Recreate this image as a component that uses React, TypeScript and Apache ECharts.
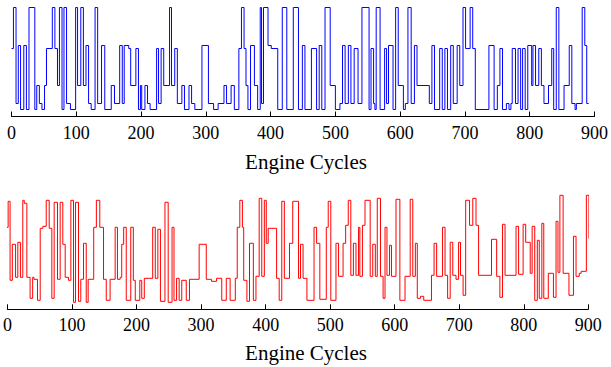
import React, { useEffect, useRef } from "react";
import * as echarts from "echarts";

const xTicks = [0, 100, 200, 300, 400, 500, 600, 700, 800, 900];
const axisTitle = "Engine Cycles";

// top (blue) signal: change points in engine cycles and level held from there
const topCycles = [
  0, 3, 7, 10.5, 14, 19, 23, 27, 36, 39, 43, 47, 51, 54, 63, 67, 71, 74, 78, 81, 85, 91, 99, 102, 107, 111, 115, 119, 123, 129, 133, 139, 144, 154, 159, 167, 171, 174,
  181, 184, 192, 196, 199, 201, 206, 210, 214, 224, 227, 231, 235, 244, 247, 252, 256, 263, 267, 274, 278, 283, 294, 304, 312, 319, 328, 332, 339, 344, 351, 355, 359,
  362, 365, 369, 375, 380, 384, 386, 389, 396, 401, 411, 418, 425, 435, 443, 449, 453, 463, 471, 475, 479, 484, 492, 500, 507, 511, 515, 520, 524, 529, 535, 541,
  552, 555, 559, 561, 563, 569, 576, 579, 582, 589, 593, 597, 605, 608, 612, 617, 622, 626, 645, 649, 653, 661, 665, 669, 673, 678, 682, 688, 692, 697, 701, 708, 712, 716,
  737, 745, 750, 754, 758, 764, 768, 771, 773, 778, 782, 786, 789, 793, 797, 803, 805, 809, 814, 818, 822, 829, 834, 837, 841, 845, 853, 861, 865, 870, 872, 881, 885, 888, 891,
];
const topValues = [
  68, 109, 13, 71, 7, 71, 7, 109, 7, 31, 13, 7, 31, 68, 109, 68, 31, 109, 7, 109, 13, 7, 109, 31, 109, 31, 71, 13, 7, 109, 13, 71, 7, 31, 13, 71, 13, 71,
  68, 31, 68, 7, 31, 7, 31, 13, 7, 68, 13, 68, 31, 109, 31, 68, 13, 31, 7, 31, 13, 7, 71, 13, 7, 13, 31, 13, 31, 7, 68, 109, 68,
  31, 7, 71, 31, 7, 109, 13, 109, 71, 68, 7, 109, 7, 109, 7, 71, 7, 68, 7, 71, 7, 109, 31, 7, 13, 71, 13, 71, 13, 68, 13, 109,
  7, 68, 13, 7, 109, 7, 68, 13, 71, 7, 109, 31, 7, 13, 109, 13, 71, 31, 13, 71, 7, 68, 7, 68, 7, 71, 13, 71, 31, 109, 68, 109, 68, 7,
  71, 7, 31, 68, 7, 13, 7, 13, 68, 13, 68, 7, 68, 7, 71, 31, 71, 31, 68, 31, 13, 31, 68, 7, 109, 7, 31, 71, 13, 7, 13, 109, 71, 13, 13,
];

// bottom (red) signal
const bottomCycles = [
  -2, 1, 4, 7.5, 12.5, 16, 20, 23.7, 26, 30, 35, 39, 41, 46.5, 50.7, 54.8, 60, 64.6, 68.7, 72.3, 77.5, 81.6, 85.7, 89.4, 94.5, 98.2, 102.3, 105.4, 110, 113.6, 117.8, 122, 125, 133.6, 137.7, 143, 148.8, 153, 159, 166.8, 170.4,
  174.6, 177, 180, 184, 191, 195, 198, 205, 208, 212, 225, 229, 233, 237, 244, 249, 255, 258, 262, 266, 270, 277, 282, 297, 308, 316, 324, 332, 339, 345, 353, 356, 360,
  364, 366, 371, 375, 381, 385, 390, 394, 398, 401, 404, 417, 421, 425, 429, 437, 442, 451, 454, 458, 464, 475, 479, 484, 494, 497, 501, 509, 513, 520, 524, 528, 532, 536, 540, 544,
  546, 550, 554, 562, 566, 570, 573, 578, 582, 585, 588, 592, 595, 602, 608, 616, 624, 628, 632, 635, 640, 645, 657, 661, 665, 674, 678, 682, 686, 690, 695, 699, 702, 706, 710, 716, 721, 726, 730,
  750, 758, 763, 767, 771, 788, 792, 799, 803, 810, 813, 817, 821, 824, 828, 831, 838, 846, 850, 853, 856, 861, 870, 877, 881, 886, 889, 897, 901, 905, 906,
];
const bottomValues = [
  82, 108, 29, 65, 32, 67, 32, 109, 106, 32, 11, 32, 30, 9, 81, 83, 109, 81, 11, 107, 30, 107, 65, 32, 29, 109, 7, 107, 8, 30, 66, 7, 30, 82, 109, 82, 30, 9, 30, 82, 30,
  32, 65, 82, 9, 82, 29, 9, 29, 11, 31, 82, 31, 80, 8, 107, 7, 82, 9, 31, 9, 29, 9, 30, 65, 30, 28, 31, 9, 31, 9, 31, 82, 109,
  82, 29, 8, 66, 9, 33, 111, 33, 109, 66, 81, 31, 9, 108, 31, 66, 108, 31, 65, 31, 9, 82, 66, 10, 82, 108, 9, 66, 33, 66, 84, 109, 34, 66, 34, 82,
  33, 84, 109, 33, 65, 33, 111, 33, 11, 82, 34, 64, 33, 110, 9, 33, 110, 33, 66, 11, 13, 9, 34, 66, 33, 82, 34, 11, 67, 34, 30, 67, 34, 14, 109, 84, 111, 84, 34,
  70, 33, 12, 85, 34, 83, 35, 85, 67, 36, 83, 9, 69, 11, 86, 11, 36, 12, 88, 37, 114, 36, 14, 73, 33, 36, 38, 114, 71, 39, 39,
];

const serif = "'Liberation Serif', 'Times New Roman', serif";

function makeXAxis(gridIndex: number) {
  return {
    gridIndex,
    type: "value" as const,
    min: xTicks[0],
    max: xTicks[xTicks.length - 1],
    interval: 100,
    axisLine: { show: true, onZero: false, lineStyle: { color: "#000", width: 1 } },
    axisTick: { show: true, inside: true, length: 5, lineStyle: { color: "#000", width: 1 } },
    axisLabel: { show: true, margin: 7, fontFamily: serif, fontSize: 18, color: "#000", showMinLabel: true, showMaxLabel: true },
    splitLine: { show: false },
  };
}

export default function App() {
  const ref = useRef<HTMLDivElement>(null);
  useEffect(() => {
    document.body.style.margin = "0";
    if (!ref.current) return;
    const chart = echarts.init(ref.current, undefined, { renderer: "svg" });
    const topData = topCycles.map((c, i) => [c, topValues[i]]);
    const bottomData = bottomCycles.map((c, i) => [c, bottomValues[i]]);
    chart.setOption({
      animation: false,
      backgroundColor: "#fff",
      grid: [
        { left: 11.5, width: 583, top: 6.5, height: 110 },
        { left: 7.3, width: 581, top: 189.3, height: 120 },
      ],
      xAxis: [makeXAxis(0), makeXAxis(1)],
      yAxis: [
        { gridIndex: 0, type: "value", min: 0, max: 110, show: false },
        { gridIndex: 1, type: "value", min: 0, max: 120, show: false },
      ],
      series: [
        {
          type: "line",
          xAxisIndex: 0,
          yAxisIndex: 0,
          step: "end",
          symbol: "none",
          clip: false,
          data: topData,
          lineStyle: { color: "#0000ff", width: 1 },
        },
        {
          type: "line",
          xAxisIndex: 1,
          yAxisIndex: 1,
          step: "end",
          symbol: "none",
          clip: false,
          data: bottomData,
          lineStyle: { color: "#ff0000", width: 1 },
        },
      ],
      graphic: [
        {
          type: "text",
          x: 306,
          y: 162,
          style: { text: axisTitle, font: `21px ${serif}`, fill: "#000", align: "center", verticalAlign: "middle" },
        },
        {
          type: "text",
          x: 306,
          y: 353,
          style: { text: axisTitle, font: `21px ${serif}`, fill: "#000", align: "center", verticalAlign: "middle" },
        },
      ],
    });
    return () => chart.dispose();
  }, []);
  return <div ref={ref} style={{ width: 611, height: 367 }} />;
}
